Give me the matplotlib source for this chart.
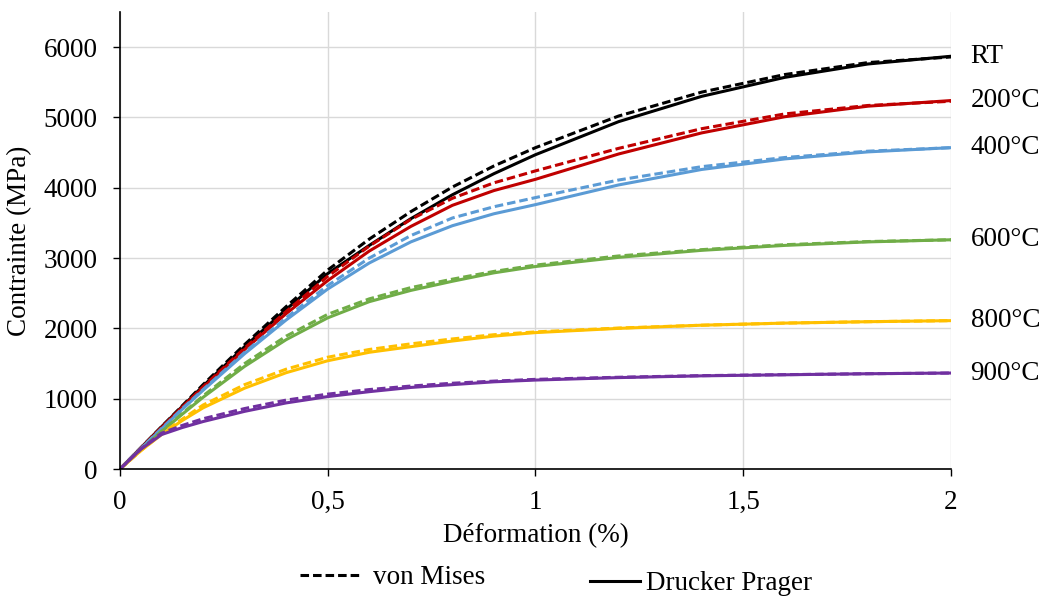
import numpy as np
import matplotlib.pyplot as plt
from matplotlib.lines import Line2D

plt.rcParams['font.family'] = ['Liberation Serif', 'DejaVu Serif']

# déformation (%)
strain = [0, 0.05, 0.1, 0.15, 0.2, 0.3, 0.4, 0.5, 0.6, 0.7, 0.8, 0.9, 1.0, 1.2, 1.4, 1.6, 1.8, 2.0]

# contrainte (MPa) - Drucker Prager (traits pleins)
dp_rt = [0, 300, 600, 890, 1180, 1740, 2270, 2780, 3180, 3560, 3900, 4200, 4470, 4940, 5300, 5570, 5760, 5870]
dp_200 = [0, 295, 590, 880, 1160, 1700, 2210, 2680, 3100, 3450, 3750, 3960, 4120, 4480, 4780, 5010, 5160, 5240]
dp_400 = [0, 290, 570, 850, 1120, 1640, 2120, 2560, 2930, 3230, 3460, 3630, 3760, 4040, 4260, 4410, 4510, 4570]
dp_600 = [0, 270, 530, 780, 1020, 1460, 1840, 2150, 2380, 2540, 2670, 2790, 2880, 3010, 3110, 3180, 3230, 3260]
dp_800 = [0, 260, 490, 690, 870, 1150, 1370, 1540, 1660, 1740, 1820, 1890, 1940, 2000, 2045, 2075, 2095, 2110]
dp_900 = [0, 280, 490, 590, 675, 820, 940, 1030, 1100, 1160, 1200, 1240, 1265, 1300, 1325, 1340, 1355, 1365]

# contrainte (MPa) - von Mises (tirets)
vm_rt = [0, 300, 600, 900, 1200, 1770, 2310, 2830, 3270, 3660, 4010, 4310, 4570, 5020, 5360, 5610, 5780, 5860]
vm_200 = [0, 295, 590, 880, 1170, 1720, 2240, 2740, 3170, 3550, 3850, 4070, 4240, 4560, 4840, 5050, 5170, 5230]
vm_400 = [0, 290, 575, 860, 1130, 1660, 2150, 2610, 3000, 3320, 3570, 3730, 3860, 4110, 4300, 4430, 4520, 4570]
vm_600 = [0, 270, 535, 790, 1040, 1500, 1890, 2200, 2420, 2580, 2700, 2810, 2900, 3030, 3120, 3190, 3235, 3260]
vm_800 = [0, 260, 500, 710, 910, 1200, 1420, 1590, 1700, 1780, 1850, 1910, 1950, 2005, 2045, 2075, 2095, 2110]
vm_900 = [0, 285, 510, 620, 715, 860, 980, 1065, 1130, 1180, 1220, 1250, 1275, 1305, 1328, 1342, 1355, 1365]

labels = ["RT", "200°C", "400°C", "600°C", "800°C", "900°C"]
colors = ["#000000", "#C00000", "#5B9BD5", "#70AD47", "#FFC000", "#7030A0"]
dp_all = [dp_rt, dp_200, dp_400, dp_600, dp_800, dp_900]
vm_all = [vm_rt, vm_200, vm_400, vm_600, vm_800, vm_900]

fs = 19.5

fig = plt.figure(figsize=(10.47, 5.98), dpi=100)
ax = fig.add_axes([0.1146, 0.2157, 0.7937, 0.7643])

for dp, vm, c, lab in zip(dp_all, vm_all, colors, labels):
    ax.plot(strain, vm, color=c, lw=2.2, dashes=(2.8, 1.3), solid_capstyle='butt')
    ax.plot(strain, dp, color=c, lw=2.2)
    ax.text(2.047, dp[-1], lab, fontsize=fs, va='center', ha='left', clip_on=False)

ax.set_xlim(0, 2)
ax.set_ylim(0, 6500)
ax.set_xticks([0, 0.5, 1, 1.5, 2])
ax.set_xticklabels(["0", "0,5", "1", "1,5", "2"])
ax.set_yticks(range(0, 6001, 1000))
ax.tick_params(labelsize=fs, direction='out', length=5, width=1)
ax.tick_params(axis='x', pad=10)
ax.tick_params(axis='y', pad=11)
ax.grid(True, color='#d9d9d9', lw=1)
ax.set_axisbelow(True)
for s in ['top', 'right']:
    ax.spines[s].set_visible(False)
ax.spines['left'].set_linewidth(1.2)
ax.spines['bottom'].set_linewidth(1.2)

ax.set_xlabel("Déformation (%)", fontsize=fs, labelpad=6)
ax.set_ylabel("Contrainte (MPa)", fontsize=fs, labelpad=8)

h_vm = Line2D([], [], color='black', lw=2.2, dashes=(2.8, 1.3))
h_dp = Line2D([], [], color='black', lw=2.2)
fig.legend([h_vm], ["von Mises"], loc='center left',
           bbox_to_anchor=(300 / 1047, 1 - 578 / 598), frameon=False,
           fontsize=fs, handlelength=2.2, handletextpad=0.5,
           borderpad=0, borderaxespad=0)
fig.legend([h_dp], ["Drucker Prager"], loc='center left',
           bbox_to_anchor=(590 / 1047, 1 - 584 / 598), frameon=False,
           fontsize=fs, handlelength=1.85, handletextpad=0.2,
           borderpad=0, borderaxespad=0)

fig.savefig("out.png", dpi=100)
